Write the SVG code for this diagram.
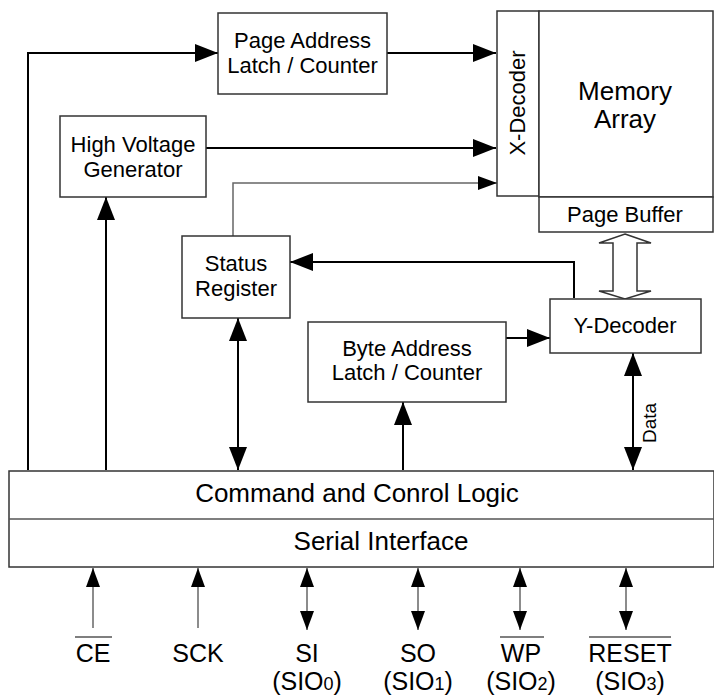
<svg xmlns="http://www.w3.org/2000/svg" width="714" height="695" viewBox="0 0 714 695">
<style>
.box{fill:#fff;stroke:#333;stroke-width:1.5}
.t{font-family:"Liberation Sans",Arial,sans-serif;font-size:22px;fill:#000;text-anchor:middle}
.big{font-size:26px}
.pin{font-size:25px}
.ln{fill:none;stroke:#000;stroke-width:2}
.gl{fill:none;stroke:#666;stroke-width:1.5}
</style>
<defs>
<marker id="a" viewBox="0 0 23 18" refX="23" refY="9" markerWidth="23" markerHeight="18" markerUnits="userSpaceOnUse" orient="auto-start-reverse"><path d="M0,0 L23,9 L0,18 z" fill="#000"/></marker>
<marker id="s" viewBox="0 0 19 14" refX="19" refY="7" markerWidth="19" markerHeight="14" markerUnits="userSpaceOnUse" orient="auto-start-reverse"><path d="M0,0 L19,7 L0,14 z" fill="#000"/></marker>
</defs>
<rect width="714" height="695" fill="#fff"/>
<g id="connectors">
<path class="ln" d="M28,470 V53 H218" marker-end="url(#a)"/>
<path class="ln" d="M387,53 H496" marker-end="url(#a)"/>
<path class="ln" d="M206,148 H496" marker-end="url(#a)"/>
<path class="gl" d="M233,236 V183 H497" marker-end="url(#s)"/>
<path class="ln" d="M106,470 V197" marker-end="url(#a)"/>
<path class="ln" d="M574,298 V262 H290" marker-end="url(#a)"/>
<path class="ln" d="M238,318 V470" marker-start="url(#a)" marker-end="url(#a)"/>
<path class="ln" d="M506,338 H550" marker-end="url(#a)"/>
<path class="ln" d="M403,470 V402" marker-end="url(#a)"/>
<path class="ln" d="M633,353 V470" marker-start="url(#a)" marker-end="url(#a)"/>
<polygon points="625,234 651,243 637,243 637,291 651,291 625,299 599,291 613,291 613,243 599,243" fill="#fff" stroke="#333" stroke-width="1.5"/>
<path class="gl" d="M93,628 V568" marker-end="url(#s)"/>
<path class="gl" d="M198,628 V568" marker-end="url(#s)"/>
<path class="gl" d="M307,630 V568" marker-start="url(#s)" marker-end="url(#s)"/>
<path class="gl" d="M418,630 V568" marker-start="url(#s)" marker-end="url(#s)"/>
<path class="gl" d="M520,630 V568" marker-start="url(#s)" marker-end="url(#s)"/>
<path class="gl" d="M626,630 V568" marker-start="url(#s)" marker-end="url(#s)"/>
<text class="t" font-size="19" transform="translate(656,423) rotate(-90)" style="font-size:19px">Data</text>
</g>
<g id="page-address">
<rect class="box" x="218" y="13" width="169" height="81"/>
<text class="t" x="302.5" y="48">Page Address</text>
<text class="t" x="302.5" y="73">Latch / Counter</text>
</g>
<g id="high-voltage">
<rect class="box" x="60" y="116" width="146" height="81"/>
<text class="t" x="133" y="152">High Voltage</text>
<text class="t" x="133" y="177">Generator</text>
</g>
<g id="x-decoder">
<rect class="box" x="497" y="11" width="42" height="185"/>
<text class="t" transform="translate(525,103) rotate(-90)">X-Decoder</text>
</g>
<g id="memory-array">
<rect class="box" x="539" y="11" width="174" height="186"/>
<text class="t big" x="625" y="100">Memory</text>
<text class="t big" x="625" y="128">Array</text>
</g>
<g id="page-buffer">
<rect class="box" x="539" y="197" width="174" height="35"/>
<text class="t" x="625" y="222">Page Buffer</text>
</g>
<g id="status-register">
<rect class="box" x="182" y="236" width="108" height="82"/>
<text class="t" x="236" y="271">Status</text>
<text class="t" x="236" y="296">Register</text>
</g>
<g id="byte-address">
<rect class="box" x="308" y="322" width="198" height="80"/>
<text class="t" x="407" y="356">Byte Address</text>
<text class="t" x="407" y="380">Latch / Counter</text>
</g>
<g id="y-decoder">
<rect class="box" x="550" y="299" width="151" height="54"/>
<text class="t" x="625" y="333">Y-Decoder</text>
</g>
<g id="command-logic">
<rect class="box" x="9" y="471" width="705" height="96"/>
<line x1="9" y1="519" x2="714" y2="519" stroke="#555" stroke-width="1.5"/>
<text class="t big" x="357" y="502">Command and Conrol Logic</text>
<text class="t big" x="381" y="550">Serial Interface</text>
</g>
<g id="pins">
<text class="t pin" x="93" y="662">CE</text>
<line x1="75" y1="637" x2="112" y2="637" stroke="#000" stroke-width="1.2"/>
<text class="t pin" x="198" y="662">SCK</text>
<text class="t pin" x="307" y="662">SI</text>
<text class="t pin" x="307" y="690">(SIO<tspan style="font-size:18px">0</tspan>)</text>
<text class="t pin" x="418" y="662">SO</text>
<text class="t pin" x="418" y="690">(SIO<tspan style="font-size:18px">1</tspan>)</text>
<text class="t pin" x="521" y="662">WP</text>
<line x1="500" y1="637" x2="544" y2="637" stroke="#000" stroke-width="1.2"/>
<text class="t pin" x="521" y="690">(SIO<tspan style="font-size:18px">2</tspan>)</text>
<text class="t pin" x="630" y="662">RESET</text>
<line x1="589" y1="637" x2="671" y2="637" stroke="#000" stroke-width="1.2"/>
<text class="t pin" x="630" y="690">(SIO<tspan style="font-size:18px">3</tspan>)</text>
</g>
</svg>
